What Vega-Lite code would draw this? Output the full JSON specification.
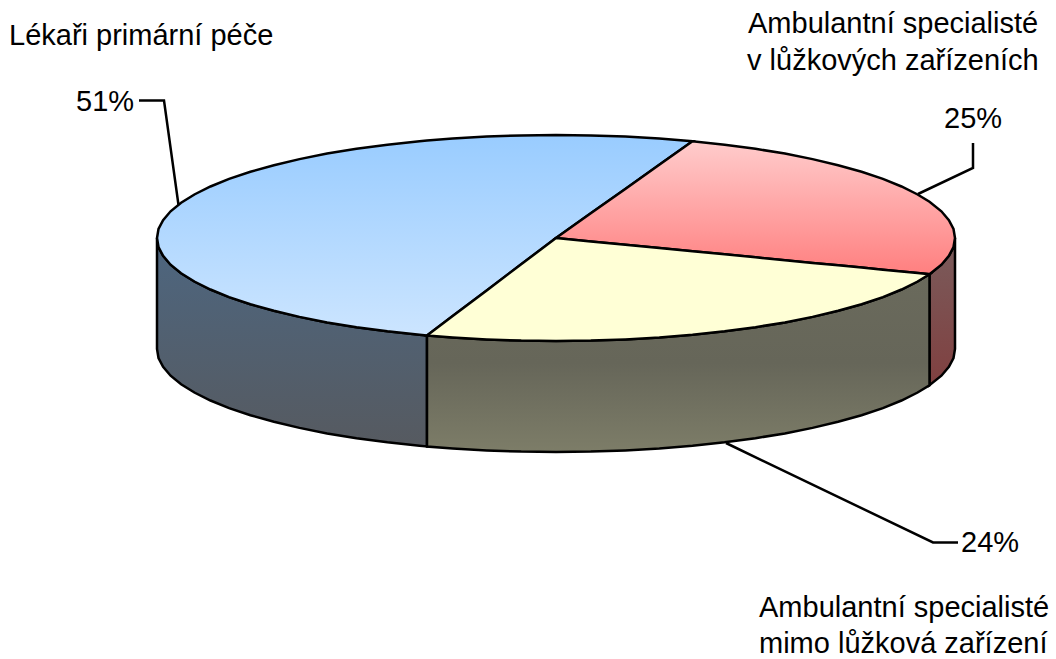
{
"$schema":"https://vega.github.io/schema/vega-lite/v6.json",
"width":1056,"height":659,"padding":0,"autosize":{"type":"none"},"background":"white",
"config":{"view":{"stroke":null}},
"datasets":{
"slices":[
{"part":"blueTop","x":157,"y":238,"y2":238},{"part":"blueTop","x":158.5,"y":229,"y2":247},{"part":"blueTop","x":163.1,"y":220.1,"y2":255.9},{"part":"blueTop","x":170.6,"y":211.3,"y2":264.7},{"part":"blueTop","x":181.1,"y":202.8,"y2":273.2},{"part":"blueTop","x":194.4,"y":194.5,"y2":281.5},{"part":"blueTop","x":210.5,"y":186.5,"y2":289.5},{"part":"blueTop","x":229.1,"y":178.9,"y2":297.1},{"part":"blueTop","x":250.4,"y":171.8,"y2":304.2},{"part":"blueTop","x":273.9,"y":165.2,"y2":310.8},{"part":"blueTop","x":299.5,"y":159.1,"y2":316.9},{"part":"blueTop","x":327.1,"y":153.6,"y2":322.4},{"part":"blueTop","x":356.5,"y":148.8,"y2":327.2},{"part":"blueTop","x":387.4,"y":144.7,"y2":331.3},{"part":"blueTop","x":419.5,"y":141.2,"y2":334.8},{"part":"blueTop","x":427,"y":140.5,"y2":335.5},{"part":"blueTop","x":452.7,"y":138.5,"y2":316.1},{"part":"blueTop","x":486.7,"y":136.6,"y2":290.4},{"part":"blueTop","x":521.2,"y":135.4,"y2":264.3},{"part":"blueTop","x":556,"y":135,"y2":238},{"part":"blueTop","x":590.8,"y":135.4,"y2":213.3},{"part":"blueTop","x":625.3,"y":136.6,"y2":188.9},{"part":"blueTop","x":659.3,"y":138.5,"y2":164.7},{"part":"blueTop","x":692.5,"y":141.2,"y2":141.2},
{"part":"redTop","x":556,"y":238,"y2":238},{"part":"redTop","x":590.8,"y":213.3,"y2":241.4},{"part":"redTop","x":625.3,"y":188.9,"y2":244.7},{"part":"redTop","x":659.3,"y":164.7,"y2":248},{"part":"redTop","x":692.5,"y":141.2,"y2":251.2},{"part":"redTop","x":724.6,"y":144.7,"y2":254.3},{"part":"redTop","x":755.5,"y":148.8,"y2":257.3},{"part":"redTop","x":784.9,"y":153.6,"y2":260.2},{"part":"redTop","x":812.5,"y":159.1,"y2":262.9},{"part":"redTop","x":838.1,"y":165.2,"y2":265.3},{"part":"redTop","x":861.6,"y":171.8,"y2":267.6},{"part":"redTop","x":882.9,"y":178.9,"y2":269.7},{"part":"redTop","x":901.5,"y":186.5,"y2":271.5},{"part":"redTop","x":917.6,"y":194.5,"y2":273},{"part":"redTop","x":929.5,"y":201.8,"y2":274.2},{"part":"redTop","x":941.4,"y":211.3,"y2":264.7},{"part":"redTop","x":948.9,"y":220.1,"y2":255.9},{"part":"redTop","x":953.5,"y":229,"y2":247},{"part":"redTop","x":955,"y":238,"y2":238},
{"part":"yellowTop","x":427,"y":335.5,"y2":335.5},{"part":"yellowTop","x":452.7,"y":316.1,"y2":337.5},{"part":"yellowTop","x":486.7,"y":290.4,"y2":339.4},{"part":"yellowTop","x":521.2,"y":264.3,"y2":340.6},{"part":"yellowTop","x":556,"y":238,"y2":341},{"part":"yellowTop","x":590.8,"y":241.4,"y2":340.6},{"part":"yellowTop","x":625.3,"y":244.7,"y2":339.4},{"part":"yellowTop","x":659.3,"y":248,"y2":337.5},{"part":"yellowTop","x":692.5,"y":251.2,"y2":334.8},{"part":"yellowTop","x":724.6,"y":254.3,"y2":331.3},{"part":"yellowTop","x":755.5,"y":257.3,"y2":327.2},{"part":"yellowTop","x":784.9,"y":260.2,"y2":322.4},{"part":"yellowTop","x":812.5,"y":262.9,"y2":316.9},{"part":"yellowTop","x":838.1,"y":265.3,"y2":310.8},{"part":"yellowTop","x":861.6,"y":267.6,"y2":304.2},{"part":"yellowTop","x":882.9,"y":269.7,"y2":297.1},{"part":"yellowTop","x":901.5,"y":271.5,"y2":289.5},{"part":"yellowTop","x":917.6,"y":273,"y2":281.5},{"part":"yellowTop","x":929.5,"y":274.2,"y2":274.2},
{"part":"blueSide","x":157,"y":238,"y2":349},{"part":"blueSide","x":158.5,"y":247,"y2":358},{"part":"blueSide","x":163.1,"y":255.9,"y2":366.9},{"part":"blueSide","x":170.6,"y":264.7,"y2":375.7},{"part":"blueSide","x":181.1,"y":273.2,"y2":384.2},{"part":"blueSide","x":194.4,"y":281.5,"y2":392.5},{"part":"blueSide","x":210.5,"y":289.5,"y2":400.5},{"part":"blueSide","x":229.1,"y":297.1,"y2":408.1},{"part":"blueSide","x":250.4,"y":304.2,"y2":415.2},{"part":"blueSide","x":273.9,"y":310.8,"y2":421.8},{"part":"blueSide","x":299.5,"y":316.9,"y2":427.9},{"part":"blueSide","x":327.1,"y":322.4,"y2":433.4},{"part":"blueSide","x":356.5,"y":327.2,"y2":438.2},{"part":"blueSide","x":387.4,"y":331.3,"y2":442.3},{"part":"blueSide","x":419.5,"y":334.8,"y2":445.8},{"part":"blueSide","x":427,"y":335.5,"y2":446.5},
{"part":"yellowSide","x":427,"y":335.5,"y2":446.5},{"part":"yellowSide","x":452.7,"y":337.5,"y2":448.5},{"part":"yellowSide","x":486.7,"y":339.4,"y2":450.4},{"part":"yellowSide","x":521.2,"y":340.6,"y2":451.6},{"part":"yellowSide","x":556,"y":341,"y2":452},{"part":"yellowSide","x":590.8,"y":340.6,"y2":451.6},{"part":"yellowSide","x":625.3,"y":339.4,"y2":450.4},{"part":"yellowSide","x":659.3,"y":337.5,"y2":448.5},{"part":"yellowSide","x":692.5,"y":334.8,"y2":445.8},{"part":"yellowSide","x":724.6,"y":331.3,"y2":442.3},{"part":"yellowSide","x":755.5,"y":327.2,"y2":438.2},{"part":"yellowSide","x":784.9,"y":322.4,"y2":433.4},{"part":"yellowSide","x":812.5,"y":316.9,"y2":427.9},{"part":"yellowSide","x":838.1,"y":310.8,"y2":421.8},{"part":"yellowSide","x":861.6,"y":304.2,"y2":415.2},{"part":"yellowSide","x":882.9,"y":297.1,"y2":408.1},{"part":"yellowSide","x":901.5,"y":289.5,"y2":400.5},{"part":"yellowSide","x":917.6,"y":281.5,"y2":392.5},{"part":"yellowSide","x":929.5,"y":274.2,"y2":385.2},
{"part":"redSide","x":929.5,"y":274.2,"y2":385.2},{"part":"redSide","x":941.4,"y":264.7,"y2":375.7},{"part":"redSide","x":948.9,"y":255.9,"y2":366.9},{"part":"redSide","x":953.5,"y":247,"y2":358},{"part":"redSide","x":955,"y":238,"y2":349}
],
"leaders":[
{"id":"51","step":1,"x":139,"y":100.5},{"id":"51","step":2,"x":164,"y":100.5},{"id":"51","step":3,"x":178.5,"y":205},
{"id":"25","step":1,"x":973,"y":143},{"id":"25","step":2,"x":973,"y":168},{"id":"25","step":3,"x":918,"y":194},
{"id":"24","step":1,"x":726,"y":443},{"id":"24","step":2,"x":933,"y":542.5},{"id":"24","step":3,"x":958,"y":542.5}
],
"labels":[
{"t":"Lékaři primární péče","x":9,"y":45},
{"t":"Ambulantní specialisté","x":748,"y":33},
{"t":"v lůžkových zařízeních","x":747,"y":70},
{"t":"25%","x":944,"y":128},
{"t":"51%","x":76,"y":111},
{"t":"24%","x":961,"y":552},
{"t":"Ambulantní specialisté","x":759,"y":617},
{"t":"mimo lůžková zařízení","x":759,"y":653}
]},
"encoding":{
"x":{"field":"x","type":"quantitative","scale":{"domain":[0,1056],"nice":false,"zero":false},"axis":null},
"y":{"field":"y","type":"quantitative","scale":{"domain":[659,0],"nice":false,"zero":false},"axis":null}
},
"layer":[
{"data":{"name":"leaders"},"mark":{"type":"line","color":"black","strokeWidth":2.5,"strokeJoin":"miter"},"encoding":{"detail":{"field":"id"},"order":{"field":"step"}}},
{"data":{"name":"slices"},"transform":[{"filter":"datum.part==='blueSide'"}],"mark":{"type":"area","stroke":"black","strokeWidth":2.5,"fill":{"gradient":"linear","x1":0,"y1":0,"x2":0,"y2":1,"stops":[{"offset":0,"color":"#4d6680"},{"offset":1,"color":"#565a60"}]}},"encoding":{"y2":{"field":"y2"}}},
{"data":{"name":"slices"},"transform":[{"filter":"datum.part==='redSide'"}],"mark":{"type":"area","stroke":"black","strokeWidth":2.5,"fill":{"gradient":"linear","x1":0,"y1":0,"x2":0,"y2":1,"stops":[{"offset":0,"color":"#7a5c5c"},{"offset":1,"color":"#804040"}]}},"encoding":{"y2":{"field":"y2"}}},
{"data":{"name":"slices"},"transform":[{"filter":"datum.part==='yellowSide'"}],"mark":{"type":"area","stroke":"black","strokeWidth":2.5,"fill":{"gradient":"linear","x1":0,"y1":0,"x2":0,"y2":1,"stops":[{"offset":0,"color":"#6a6a5c"},{"offset":0.5,"color":"#666659"},{"offset":1,"color":"#7d7d68"}]}},"encoding":{"y2":{"field":"y2"}}},
{"data":{"name":"slices"},"transform":[{"filter":"datum.part==='blueTop'"}],"mark":{"type":"area","stroke":"black","strokeWidth":2.5,"fill":{"gradient":"linear","x1":0,"y1":0,"x2":0,"y2":1,"stops":[{"offset":0,"color":"#99ccff"},{"offset":1,"color":"#cce5ff"}]}},"encoding":{"y2":{"field":"y2"}}},
{"data":{"name":"slices"},"transform":[{"filter":"datum.part==='redTop'"}],"mark":{"type":"area","stroke":"black","strokeWidth":2.5,"fill":{"gradient":"linear","x1":0,"y1":0,"x2":0,"y2":1,"stops":[{"offset":0,"color":"#ffcccc"},{"offset":1,"color":"#ff7f7f"}]}},"encoding":{"y2":{"field":"y2"}}},
{"data":{"name":"slices"},"transform":[{"filter":"datum.part==='yellowTop'"}],"mark":{"type":"area","stroke":"black","strokeWidth":2.5,"fill":"#ffffd6"},"encoding":{"y2":{"field":"y2"}}},
{"data":{"name":"labels"},"mark":{"type":"text","align":"left","baseline":"alphabetic","font":"Liberation Sans","fontSize":29,"color":"black"},"encoding":{"text":{"field":"t"}}}
]
}
